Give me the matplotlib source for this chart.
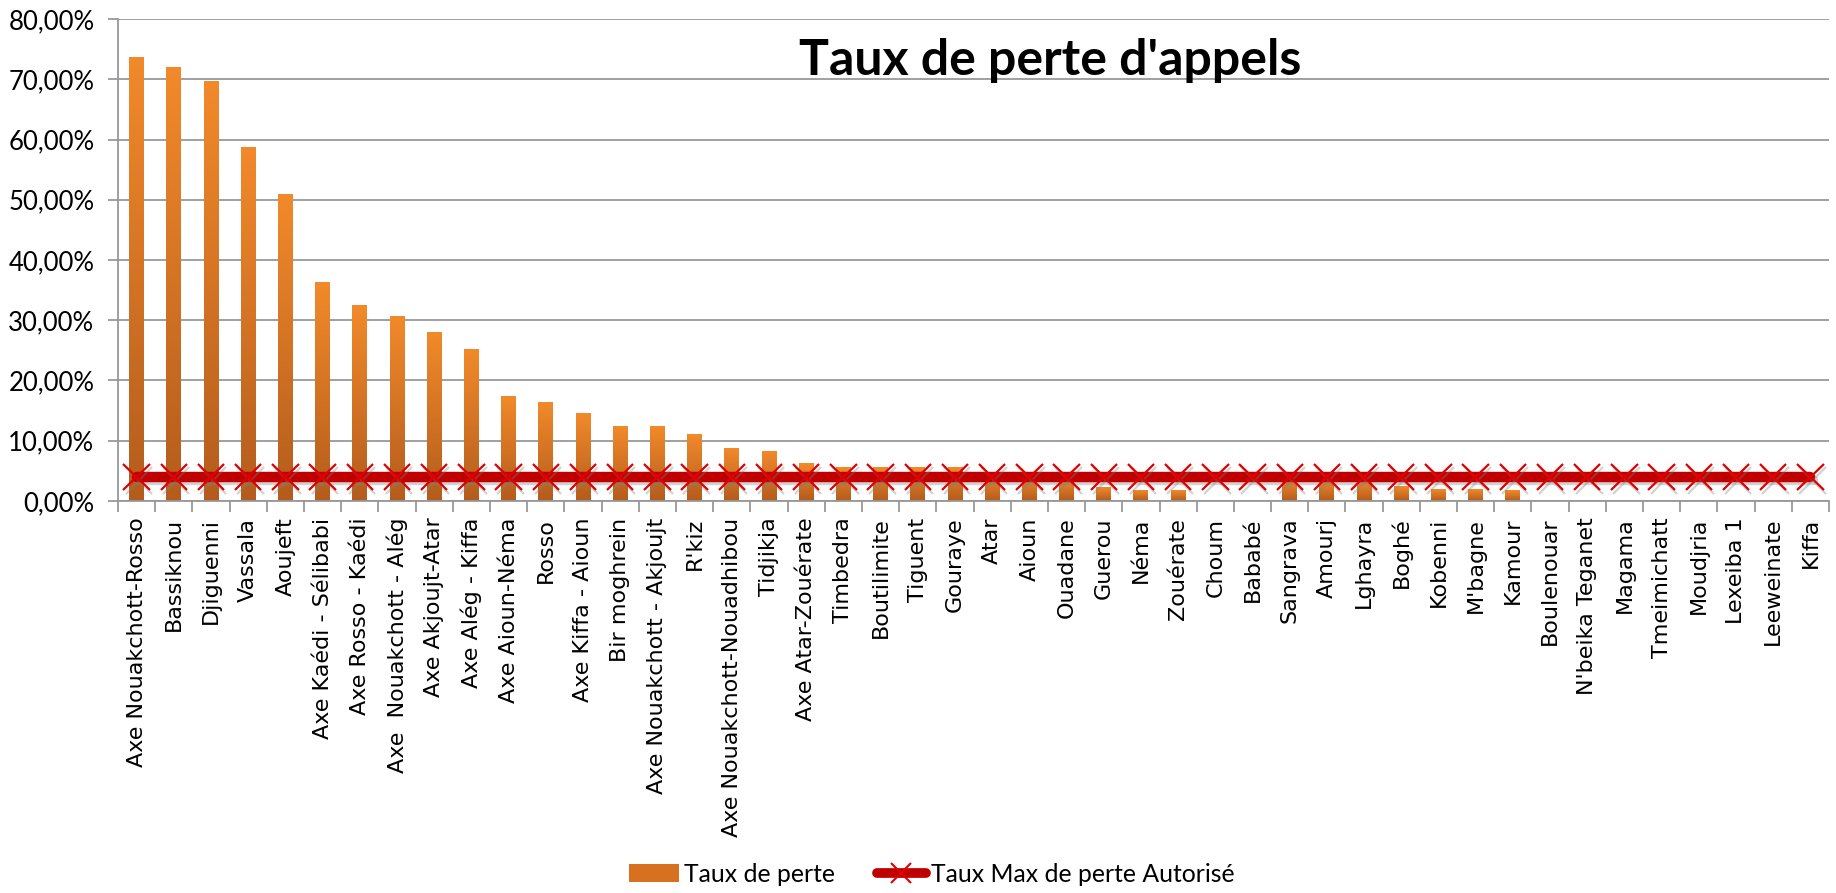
"""
Taux de perte d'appels par site / axe.
"""

import numpy as np
import matplotlib.pyplot as plt
import matplotlib.patheffects as pe
from matplotlib.colors import LinearSegmentedColormap
from matplotlib.patches import Patch
from matplotlib.lines import Line2D
from matplotlib.ticker import FuncFormatter, FixedLocator, NullFormatter


sites = ["Axe Nouakchott-Rosso", "Bassiknou", "Djiguenni", "Vassala", "Aoujeft",
         "Axe Kaédi - Sélibabi", "Axe Rosso - Kaédi", "Axe  Nouakchott - Alég",
         "Axe Akjoujt-Atar", "Axe Alég - Kiffa", "Axe Aioun-Néma", "Rosso",
         "Axe Kiffa - Aioun", "Bir moghrein", "Axe Nouakchott - Akjoujt", "R'kiz",
         "Axe Nouakchott-Nouadhibou", "Tidjikja", "Axe Atar-Zouérate", "Timbedra",
         "Boutilimite", "Tiguent", "Gouraye", "Atar", "Aioun", "Ouadane", "Guerou",
         "Néma", "Zouérate", "Choum", "Bababé", "Sangrava", "Amourj", "Lghayra",
         "Boghé", "Kobenni", "M'bagne", "Kamour", "Boulenouar", "N'beika Teganet",
         "Magama", "Tmeimichatt", "Moudjria", "Lexeiba 1", "Leeweinate", "Kiffa"]

taux_perte = [73.6, 71.9, 69.7, 58.6, 50.8, 36.2, 32.4, 30.7, 28.0, 25.1,
              17.4, 16.3, 14.6, 12.3, 12.3, 11.0, 8.7, 8.2, 6.3, 5.6,
              5.5, 5.5, 5.5, 4.3, 4.0, 3.7, 2.3, 1.8, 1.8, 0.0,
              0.0, 3.5, 3.5, 3.4, 2.4, 1.9, 1.9, 1.8, 0.0, 0.0,
              0.0, 0.0, 0.0, 0.0, 0.0, 0.0]

taux_max = [4.0] * len(sites)

y_ticks = [0, 10, 20, 30, 40, 50, 60, 70, 80]

GRID = "#989898"

fig = plt.figure(figsize=(18.36, 8.93), dpi=100)
ax = fig.add_axes([0.0643, 0.439, 0.9319, 0.5397])

x = np.arange(len(sites))

# bars with vertical gradient (dark at bottom, orange at top)
bars = ax.bar(x, taux_perte, width=0.4, color="none", zorder=2)
grad = LinearSegmentedColormap.from_list("orange", ["#b45c1d", "#f28a2b"])
img = np.linspace(0, 1, 256).reshape(-1, 1)
for b in bars:
    h = b.get_height()
    if h <= 0:
        continue
    x0, w = b.get_x(), b.get_width()
    ax.imshow(img, cmap=grad, origin="lower", aspect="auto",
              extent=[x0, x0 + w, 0, h], zorder=2,
              path_effects=[pe.SimplePatchShadow(offset=(2, -2), alpha=0.2)])

ax.plot(x, taux_max, color="#c00000", lw=7.5, marker="x", ms=19,
        mec="#e00000", mew=1.6, solid_capstyle="round", zorder=3,
        path_effects=[pe.SimpleLineShadow(offset=(1.5, -2.5), shadow_color="gray", alpha=0.35),
                      pe.Normal()])

ax.set_xlim(-0.5, len(sites) - 0.5)
ax.set_ylim(0, 80)

ax.yaxis.set_major_locator(FixedLocator(y_ticks))
ax.yaxis.set_major_formatter(FuncFormatter(lambda v, p: f"{v:.2f}%".replace(".", ",")))
ax.yaxis.grid(True, color=GRID, lw=1.3)
ax.set_axisbelow(True)

ax.set_xticks(x)
ax.set_xticklabels(sites, rotation=90, fontsize=16, family="DejaVu Sans")
ax.xaxis.set_minor_locator(FixedLocator(np.arange(-0.5, len(sites), 1)))
ax.xaxis.set_minor_formatter(NullFormatter())
ax.tick_params(axis="x", which="major", length=0, pad=12)
ax.tick_params(axis="x", which="minor", length=8, width=1.3, color=GRID, direction="out")
ax.tick_params(axis="y", length=7, width=1.3, color=GRID, labelsize=18.5, pad=10)
for lbl in ax.get_yticklabels():
    lbl.set_family("Lato")

for s in ["top", "right"]:
    ax.spines[s].set_visible(False)
for s in ["left", "bottom"]:
    ax.spines[s].set_color(GRID)
    ax.spines[s].set_linewidth(1.3)

fig.text(0.572, 0.932, "Taux de perte d'appels", ha="center", va="center",
         fontsize=36, fontweight="bold", family="Lato")

handles = [Patch(facecolor="#d8711f", label="Taux de perte"),
           Line2D([], [], color="#c00000", lw=7, marker="x", ms=14, mec="#e00000",
                  mew=1.5, solid_capstyle="round", label="Taux Max de perte Autorisé")]
fig.legend(handles=handles, loc="center", bbox_to_anchor=(0.5076, 0.021), ncol=2,
           frameon=False, prop={"family": "Lato", "size": 17.8}, columnspacing=1.7,
           handlelength=2.0, handletextpad=0.2)

fig.savefig("out.png", dpi=100)
